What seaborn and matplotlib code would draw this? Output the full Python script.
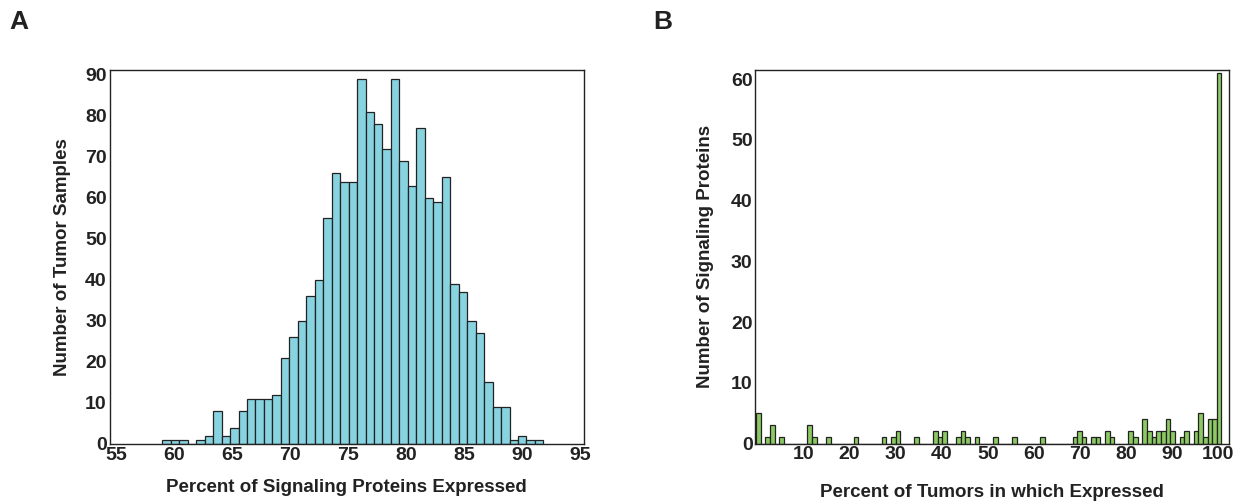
import numpy as np
import pandas as pd
import matplotlib
matplotlib.use("Agg")
import matplotlib.pyplot as plt
import seaborn as sns

# ---- Panel A data: histogram of percent of signaling proteins expressed ----
a_bin_start = 59.0
a_bin_width = 0.73
a_counts = [1, 1, 1, 0, 1, 2, 8, 2, 4, 8, 11, 11, 11, 12, 21, 26, 30, 36, 40,
            55, 66, 64, 64, 89, 81, 78, 72, 89, 69, 63, 77, 60, 59, 65, 39,
            37, 30, 27, 15, 9, 9, 1, 2, 1, 1]
a_xticks = [55, 60, 65, 70, 75, 80, 85, 90, 95]
a_yticks = [0, 10, 20, 30, 40, 50, 60, 70, 80, 90]

# ---- Panel B data: histogram of percent of tumors in which expressed ----
b_bin_start = -0.3
b_bin_width = 1.01
b_counts = [5, 0, 1, 3, 0, 1, 0, 0, 0, 0,
            0, 3, 1, 0, 0, 1, 0, 0, 0, 0,
            0, 1, 0, 0, 0, 0, 0, 1, 0, 1,
            2, 0, 0, 0, 1, 0, 0, 0, 2, 1,
            2, 0, 0, 1, 2, 1, 0, 1, 0, 0,
            0, 1, 0, 0, 0, 1, 0, 0, 0, 0,
            0, 1, 0, 0, 0, 0, 0, 0, 1, 2,
            1, 0, 1, 1, 0, 2, 1, 0, 0, 0,
            2, 1, 0, 4, 2, 1, 2, 2, 4, 2,
            0, 1, 2, 0, 2, 5, 1, 4, 4, 61]
b_xticks = [10, 20, 30, 40, 50, 60, 70, 80, 90, 100]
b_yticks = [0, 10, 20, 30, 40, 50, 60]

sns.set_theme(style="white")
plt.rcParams['font.family'] = ['Liberation Sans', 'DejaVu Sans']
plt.rcParams['font.weight'] = 'bold'

W, H = 1244, 501
fig = plt.figure(figsize=(W / 100, H / 100), dpi=100)

def frac(l, t, r, b):
    return [l / W, (H - b) / H, (r - l) / W, (b - t) / H]

axA = fig.add_axes(frac(109.5, 70, 584, 444))
axB = fig.add_axes(frac(755.3, 69.5, 1229.3, 443.5))

def draw(ax, start, width, counts, color):
    n = len(counts)
    centers = start + width * (np.arange(n) + 0.5)
    df = pd.DataFrame({"x": centers, "w": np.asarray(counts, dtype=float)})
    sns.histplot(data=df, x="x", weights="w", binwidth=width,
                 binrange=(start, start + n * width), ax=ax,
                 color=color, edgecolor="#222222", linewidth=0.9, alpha=1.0)

draw(axA, a_bin_start, a_bin_width, a_counts, "#88D3E0")
draw(axB, b_bin_start, b_bin_width, b_counts, "#8CC963")

tick_kw = dict(fontsize=14, fontweight='bold', color='#222222')
label_kw = dict(fontsize=13.5, fontweight='bold', color='#222222')

axA.set_xlim(54.45, 95.35)
axA.set_ylim(0, 91.2)
axA.set_xticks(a_xticks)
axA.set_yticks(a_yticks)
axA.set_xticklabels([str(t) for t in a_xticks], **tick_kw)
axA.set_yticklabels([str(t) for t in a_yticks], **tick_kw)
axA.set_xlabel("Percent of Signaling Proteins Expressed", labelpad=11, **label_kw)
axA.set_ylabel("Number of Tumor Samples", labelpad=10, **label_kw)

axB.set_xlim(-0.46, 102.4)
axB.set_ylim(0, 61.6)
axB.set_xticks(b_xticks)
axB.set_yticks(b_yticks)
axB.set_xticklabels([str(t) for t in b_xticks], **tick_kw)
axB.set_yticklabels([str(t) for t in b_yticks], **tick_kw)
axB.set_xlabel("Percent of Tumors in which Expressed", labelpad=15, **label_kw)
axB.set_ylabel("Number of Signaling Proteins", labelpad=12, **label_kw)

for ax in (axA, axB):
    ax.tick_params(axis='both', length=0, pad=2)
    for s in ax.spines.values():
        s.set_visible(True)
        s.set_color('#222222')
        s.set_linewidth(1.0)
    ax.grid(False)

fig.text(9 / W, 1 - 22 / H, "A", fontsize=19, fontweight='bold',
         color='#222222', va='center', ha='left')
fig.text(653 / W, 1 - 22 / H, "B", fontsize=19, fontweight='bold',
         color='#222222', va='center', ha='left')

fig.savefig("out.png", dpi=100, facecolor="white")
